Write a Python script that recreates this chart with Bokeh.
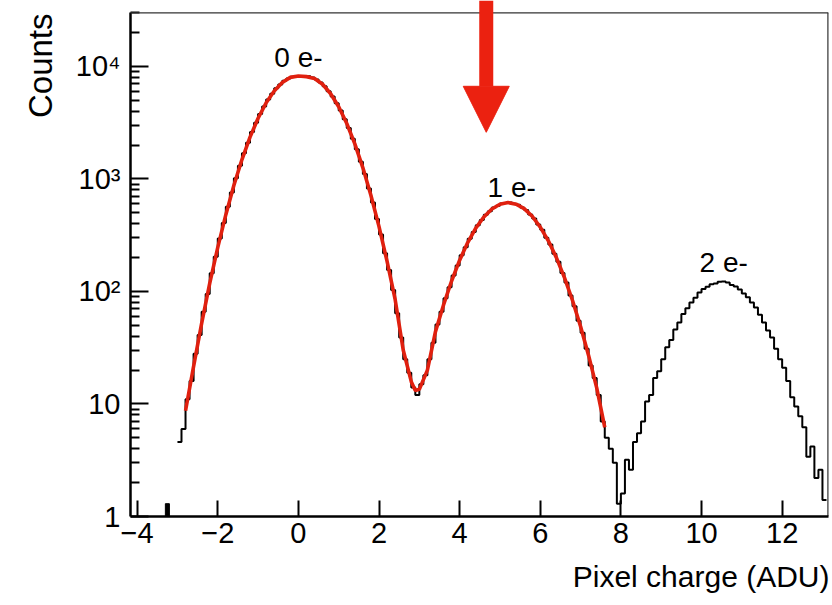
import numpy as np
from bokeh.plotting import figure
from bokeh.models import Range1d, Arrow, NormalHead, Span, FixedTicker, Title
from bokeh.core.properties import value
from bokeh.embed import file_html
from bokeh.resources import INLINE

# ---- histogram of pixel charge: 0.1 ADU bins starting at -3.0 ADU ----
bin_lo = -3.0
bin_width = 0.1
counts = [
    4.6, 6.0, 11, 16, 28, 41, 66, 95, 145, 204,
    296, 407, 568, 757, 1015, 1309, 1690, 2105, 2620, 3158,
    3790, 4402, 5095, 5726, 6398, 6932, 7462, 7840, 8125, 8210,
    8230, 8195, 8180, 7965, 7670, 7198, 6680, 6040, 5410, 4708,
    4068, 3400, 2836, 2280, 1836, 1421, 1106, 822, 617, 442,
    321, 219, 155, 103, 64, 39, 25, 19, 14, 12,
    15, 18, 25, 35, 51, 66, 87, 109, 139, 170,
    210, 247, 295, 338, 389, 431, 482, 516, 558, 579,
    607, 612, 618, 603, 591, 557, 529, 483, 446, 394,
    353, 301, 262, 216, 184, 146, 120, 92, 74, 55,
    43, 31, 22, 17, 12, 7, 5, 4, 3, 1.3,
    1.6, 3.2, 2.6, 4.6, 5.5, 7.0, 10.5, 12, 17, 19.5,
    25, 32, 37, 46, 53, 63, 71, 80, 88, 98,
    105, 110, 116, 118, 122, 123, 120, 114, 111, 104,
    96, 89, 80, 72, 62, 53, 45, 39, 31, 25,
    21, 16, 11.5, 9.5, 7.8, 6.2, 3.4, 4.2, 2.2, 2.6, 1.4,
]
# a single isolated low bin to the left of the main distribution
stray_left = [-3.3]
stray_right = [-3.2]
stray_counts = [1.3]

# ---- fitted model over the 0 e- and 1 e- peaks ----
fit_x = [-2.8, -2.6, -2.4, -2.2, -2.0, -1.8, -1.6, -1.4, -1.2, -1.0,
         -0.8, -0.6, -0.4, -0.2, 0.0, 0.2, 0.4, 0.6, 0.8, 1.0,
         1.2, 1.4, 1.6, 1.8, 2.0, 2.2, 2.4, 2.6, 2.8, 2.9,
         3.0, 3.2, 3.4, 3.6, 3.8, 4.0, 4.2, 4.4, 4.6, 4.8,
         5.0, 5.2, 5.4, 5.6, 5.8, 6.0, 6.2, 6.4, 6.6, 6.8,
         7.0, 7.2, 7.4, 7.6]
fit_y = [8.7, 21.6, 52, 118, 247, 482, 879, 1489, 2355, 3467,
         4753, 6067, 7211, 8000, 8222, 8128, 7834, 6950, 5728, 4385,
         3112, 2051, 1256, 714, 377, 185, 85, 30.2, 15.8, 13.2,
         13.5, 20, 44, 76, 124, 190, 272, 366, 459, 541,
         597, 617, 597, 545, 466, 373, 282, 200, 133, 83.2,
         48.8, 26.9, 13.9, 6.2]

# ---- peak annotations ----
peak_names = ["0 e-", "1 e-", "2 e-"]
peak_label_x = [0.0, 5.29, 10.55]
peak_label_y = [11950, 845, 182]

# marker arrow pointing at the threshold between peaks
arrow_x = 4.66
arrow_tip = 2600

# ---- axis ticks ----
x_ticks = [-4, -2, 0, 2, 4, 6, 8, 10, 12]
x_tick_text = ["\u22124", "\u22122", "0", "2", "4", "6", "8", "10", "12"]
y_ticks = [1, 10, 100, 1000, 10000]
y_tick_text = ["1", "10", "10\u00b2", "10\u00b3", "10\u2074"]

FONT = "Liberation Sans"
FIT_RED = "#E0200F"
ARROW_RED = "#EB2110"

X0, X1 = -4.165, 13.15
Y0, Y_AXIS_TOP, Y_CANVAS_TOP = 1.0, 3.0e4, 3.86e4

p = figure(
    width=832, height=605,
    x_range=Range1d(X0, X1), y_range=Range1d(Y0, Y_CANVAS_TOP),
    y_axis_type="log",
    output_backend="svg", toolbar_location=None,
    min_border_left=130, min_border_right=4,
    min_border_top=0, min_border_bottom=89,
)
p.outline_line_color = None
p.grid.visible = False
p.background_fill_color = "white"
p.border_fill_color = "white"

# x axis
xa = p.xaxis[0]
xa.ticker = FixedTicker(ticks=x_ticks)
xa.major_label_overrides = dict(zip(x_ticks, x_tick_text))
xa.major_tick_in = 16
xa.major_tick_out = 0
xa.minor_tick_in = 0
xa.minor_tick_out = 0
xa.axis_line_width = 2.5
xa.major_tick_line_width = 2
xa.major_label_text_font = FONT
xa.major_label_text_font_size = "29px"
xa.major_label_text_color = "black"
xa.major_label_standoff = 6

# y axis (log)
ya = p.yaxis[0]
minor = [m * 10 ** d for d in range(0, 5) for m in range(2, 10)]
ya.ticker = FixedTicker(ticks=y_ticks, minor_ticks=minor)
ya.major_label_overrides = dict(zip(y_ticks, y_tick_text))
ya.bounds = (Y0, Y_AXIS_TOP)
ya.major_tick_in = 18
ya.major_tick_out = 0
ya.minor_tick_in = 9
ya.minor_tick_out = 0
ya.axis_line_width = 2.5
ya.major_tick_line_width = 2
ya.minor_tick_line_width = 2
ya.major_label_text_font = FONT
ya.major_label_text_font_size = "29px"
ya.major_label_text_color = "black"
ya.major_label_standoff = 10

# axis titles, pushed to the far ends of their axes
p.add_layout(Title(text="Pixel charge (ADU)", align="right",
                   text_font=FONT, text_font_size="30px",
                   text_font_style="normal", text_color="black",
                   standoff=25, offset=-1), "below")
p.add_layout(Title(text="Counts", align="right",
                   text_font=FONT, text_font_size="33px",
                   text_font_style="normal", text_color="black",
                   standoff=28, offset=13), "left")

# thin top and right frame lines
p.add_layout(Span(location=Y_AXIS_TOP, dimension="width",
                  line_color="#333333", line_width=1.2))
p.segment(x0=[X1], y0=[Y0], x1=[X1], y1=[Y_AXIS_TOP],
          line_color="#333333", line_width=2.4)

# histogram outline as a staircase
edges = bin_lo + bin_width * np.arange(len(counts) + 1)
step_x = np.repeat(edges, 2)[1:-1]
step_y = np.repeat(np.asarray(counts, dtype=float), 2)
p.line(step_x, step_y, line_color="black", line_width=2)
p.quad(left=stray_left, right=stray_right, bottom=Y0, top=stray_counts,
       fill_color="black", line_color="black")

# fit curve
p.line(fit_x, fit_y, line_color=FIT_RED, line_width=3.6)

# peak labels
p.text(x=peak_label_x, y=peak_label_y, text=peak_names,
       text_font=value(FONT), text_font_size="28px",
       text_align="center", text_baseline="alphabetic", text_color="black")

# red arrow from the top edge
p.add_layout(Arrow(
    end=NormalHead(size=46, fill_color=ARROW_RED, line_color=ARROW_RED, line_width=1),
    x_start=arrow_x, y_start=Y_CANVAS_TOP, x_end=arrow_x, y_end=arrow_tip,
    line_color=ARROW_RED, line_width=14,
))

open("out.html", "w").write(file_html(p, INLINE))
